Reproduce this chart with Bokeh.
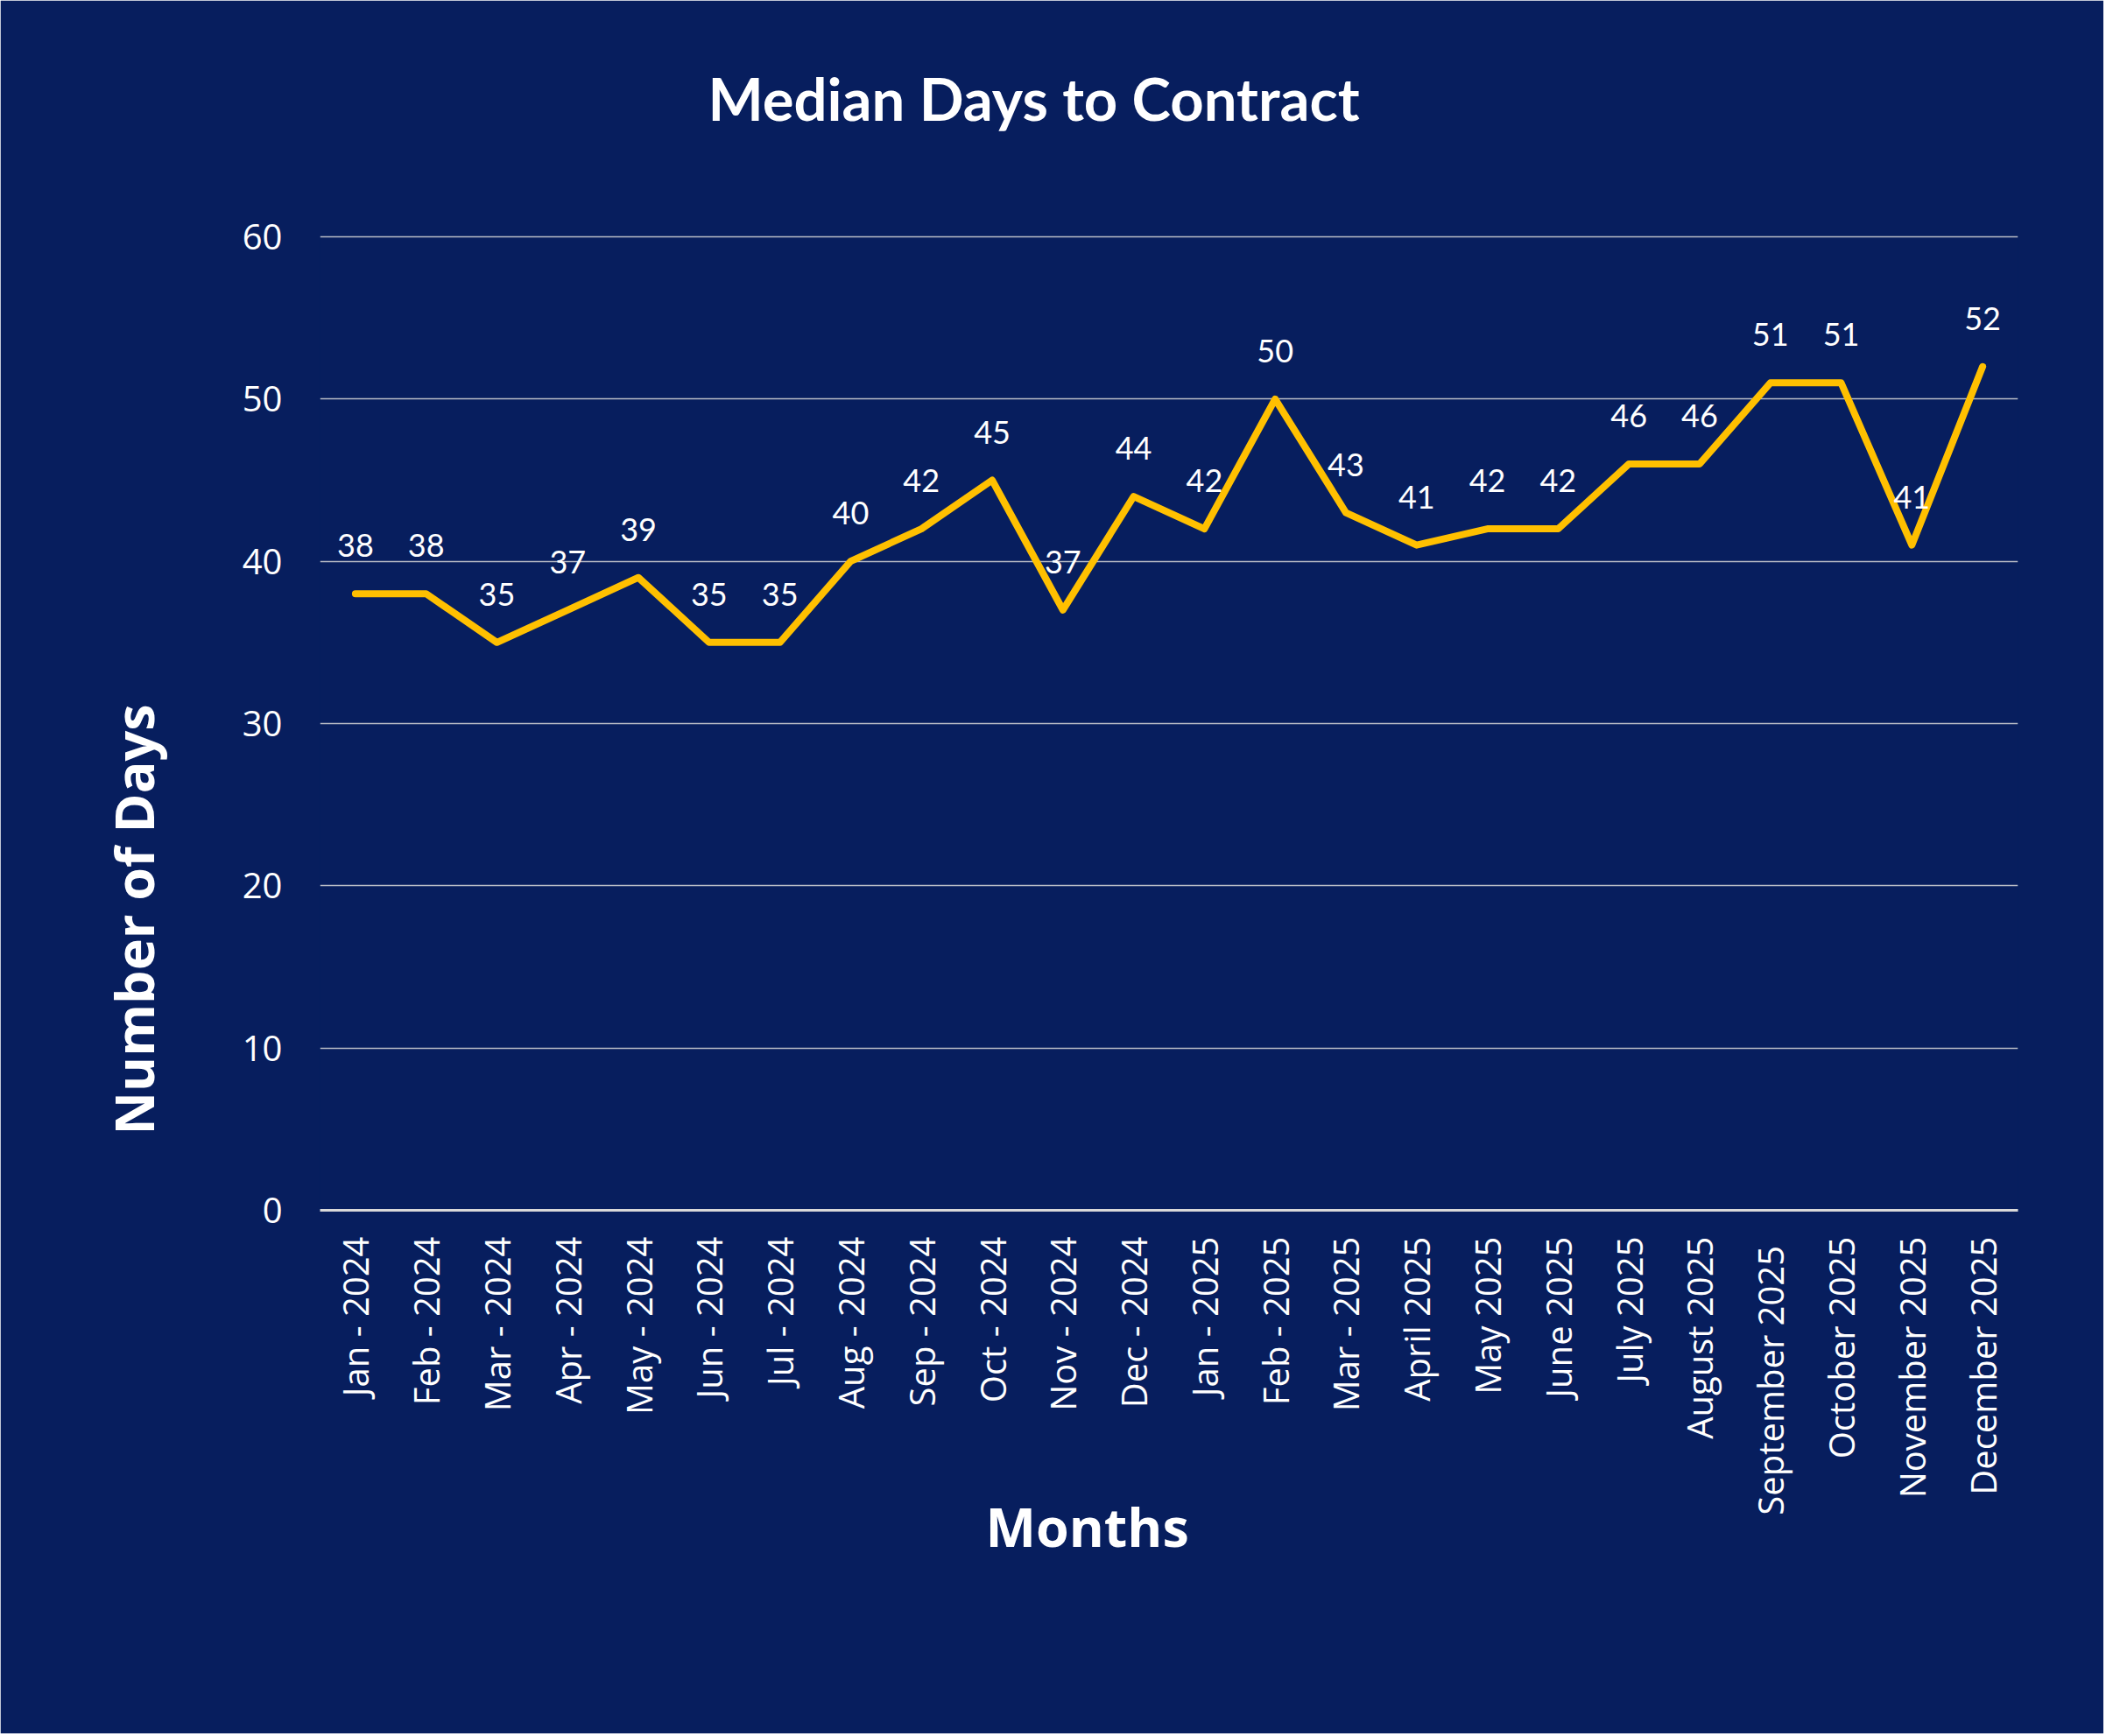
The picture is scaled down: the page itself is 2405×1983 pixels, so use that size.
from math import pi
from bokeh.plotting import figure
from bokeh.models import ColumnDataSource, LabelSet, Title, FixedTicker, FactorRange, Range1d
from bokeh.core.properties import value
from bokeh.embed import file_html
from bokeh.resources import INLINE

# ---- data ----
months = ["Jan - 2024", "Feb - 2024", "Mar - 2024", "Apr - 2024", "May - 2024",
          "Jun - 2024", "Jul - 2024", "Aug - 2024", "Sep - 2024", "Oct - 2024",
          "Nov - 2024", "Dec - 2024", "Jan - 2025", "Feb - 2025", "Mar - 2025",
          "April 2025", "May 2025", "June 2025", "July 2025", "August 2025",
          "September  2025", "October 2025", "November 2025", "December 2025"]
days = [38, 38, 35, 37, 39, 35, 35, 40, 42, 45, 37, 44,
        42, 50, 43, 41, 42, 42, 46, 46, 51, 51, 41, 52]
y_ticks = [0, 10, 20, 30, 40, 50, 60]

title_text = "Median Days to Contract"
x_title = "Months"
y_title = "Number of Days"

# ---- layout constants (pixels) ----
W, H = 2402, 1980
PAD = 2                       # frame extends 2px above the 60 gridline
ML, MT = 365, 270 - PAD
MR, MB = W - 2304, H - 1382
BG = "#071E5E"
Y_TOP = max(y_ticks) * (1 + PAD / (1382 - 270))

src = ColumnDataSource(dict(month=months, days=days, label=[str(d) for d in days]))

p = figure(width=W, height=H, x_range=FactorRange(*months), y_range=Range1d(0, Y_TOP),
           output_backend="svg", toolbar_location=None,
           background_fill_color=BG, border_fill_color=BG,
           min_border_left=ML, min_border_right=MR, min_border_top=MT, min_border_bottom=MB)
# paint over the seam between frame and border fills
p.outline_line_color = BG
p.outline_line_width = 2

# grid
p.xgrid.grid_line_color = None
p.ygrid.grid_line_color = "#D9D9D9"
p.ygrid.grid_line_alpha = 0.85
p.ygrid.grid_line_width = 1.5

# y axis
p.yaxis.ticker = FixedTicker(ticks=y_ticks)
p.yaxis.axis_line_color = None
p.yaxis.major_tick_line_color = None
p.yaxis.minor_tick_line_color = None
p.yaxis.major_tick_out = 0
p.yaxis.major_label_standoff = 43
p.yaxis.major_label_text_color = "white"
p.yaxis.major_label_text_font = "Open Sans"
p.yaxis.major_label_text_font_size = "40px"

# x axis
p.xaxis.axis_line_color = "#D9D9D9"
p.xaxis.axis_line_width = 3
p.xaxis.major_tick_line_color = None
p.xaxis.major_tick_out = 0
p.xaxis.major_label_orientation = pi / 2
p.xaxis.major_label_standoff = 30
p.xaxis.major_label_text_color = "white"
p.xaxis.major_label_text_font = "Open Sans"
p.xaxis.major_label_text_font_size = "40px"

# line
p.line(x="month", y="days", source=src, line_color="#FFC000", line_width=8,
       line_join="round", line_cap="round")

# data labels
p.add_layout(LabelSet(x="month", y="days", text="label", source=src, y_offset=42,
                      text_align="center", text_baseline="alphabetic",
                      text_color="white", text_font=value("Lato"), text_font_size="36px"))

# main title: a spacer panel next to the frame, then the title itself
p.title.text = ""
p.add_layout(Title(text=" ", text_font="Lato", text_font_size="10px", standoff=105 - PAD), "above")
p.add_layout(Title(text=title_text, align="left", offset=443, standoff=0,
                   vertical_align="bottom", text_color="white", text_font="Lato",
                   text_font_style="bold", text_font_size="67px"), "above")

# axis titles
p.add_layout(Title(text=y_title, align="left", offset=86, standoff=159,
                   vertical_align="bottom", text_color="white", text_font="Open Sans",
                   text_font_style="bold", text_font_size="61px"), "left")
p.add_layout(Title(text=x_title, align="left", offset=760, standoff=-64,
                   vertical_align="top", text_color="white", text_font="Open Sans",
                   text_font_style="bold", text_font_size="61px"), "below")

open("out.html", "w").write(file_html(p, INLINE))
